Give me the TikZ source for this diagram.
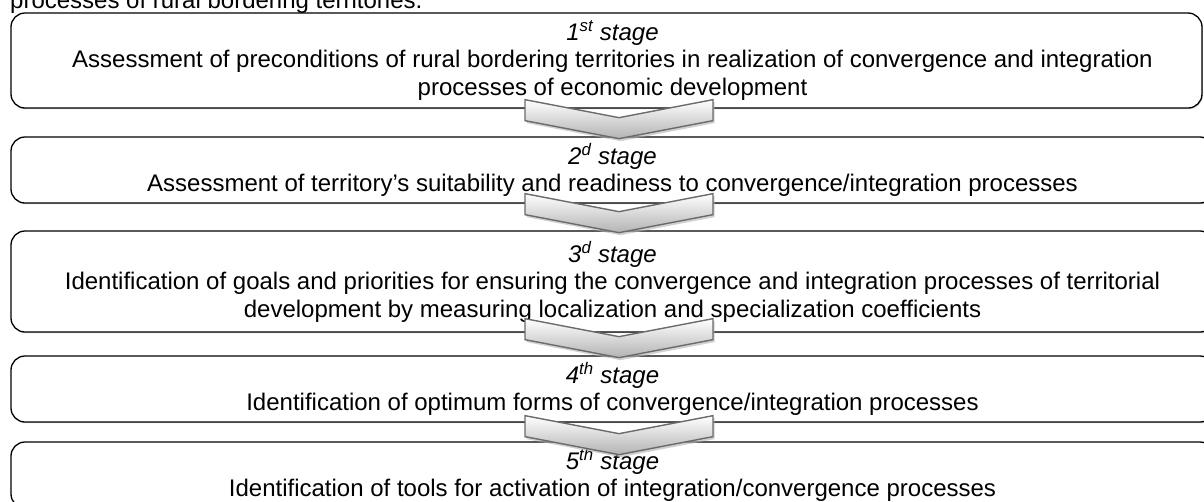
\documentclass[tikz,border=0pt]{standalone}
\usepackage{fontspec}
\setmainfont{Liberation Sans}
\usetikzlibrary{calc,shadows}
\begin{document}
\begin{tikzpicture}[x=1pt,y=-1pt,
  txt/.style={font=\fontsize{24}{27.5}\selectfont},
  stagebox/.style={draw=black, line width=1.3pt, rounded corners=14pt, fill=white,
    align=center, inner sep=0pt, txt,
    drop shadow={shadow xshift=0.8pt, shadow yshift=-1.2pt, fill=black!35, opacity=0.6}},
  chev/.style={draw=black!58, line width=1.4pt, top color=white, bottom color=black!30,
    drop shadow={shadow xshift=1.5pt, shadow yshift=-2.5pt, fill=black!30, opacity=0.6}}]
\useasboundingbox (0,0) rectangle (1204,501);
\clip (0,0) rectangle (1204,501);
\node[txt, anchor=base west, inner sep=0pt] (title) at (10,8) {processes of rural bordering territories.};
\node[stagebox, minimum width=1191pt, minimum height=95pt] (b1) at (606.5,60.5)
  {\hspace*{12pt}\textit{1\textsuperscript{st} stage}\\\hspace*{12pt}Assessment of preconditions of rural bordering territories in realization of convergence and integration\\\hspace*{12pt}processes of economic development};
\node[stagebox, minimum width=1203pt, minimum height=66pt] (b2) at (612.5,170)
  {\textit{2\textsuperscript{d} stage}\\Assessment of territory’s suitability and readiness to convergence/integration processes};
\node[stagebox, minimum width=1203pt, minimum height=101pt] (b3) at (612.5,281.5)
  {\textit{3\textsuperscript{d} stage}\\Identification of goals and priorities for ensuring the convergence and integration processes of territorial\\development by measuring localization and specialization coefficients};
\node[stagebox, minimum width=1203pt, minimum height=66pt] (b4) at (612.5,389)
  {\textit{4\textsuperscript{th} stage}\\Identification of optimum forms of convergence/integration processes};
\node[stagebox, minimum width=1203pt, minimum height=66pt] (b5) at (612.5,475)
  {\textit{5\textsuperscript{th} stage}\\Identification of tools for activation of integration/convergence processes};
\coordinate (c1) at ($(b1.south)+(12.5,-9)$);
\coordinate (c2) at ($(b2.south)+(6.5,-10)$);
\coordinate (c3) at ($(b3.south)+(6.5,-14)$);
\coordinate (c4) at ($(b4.south)+(6.5,-7)$);
\foreach \c in {c1,c2,c3,c4}{
  \path[chev, shift={(\c)}] (-94,0) -- (0,18) -- (94,0) -- (94,21) -- (0,39) -- (-94,21) -- cycle;
}
\end{tikzpicture}
\end{document}
